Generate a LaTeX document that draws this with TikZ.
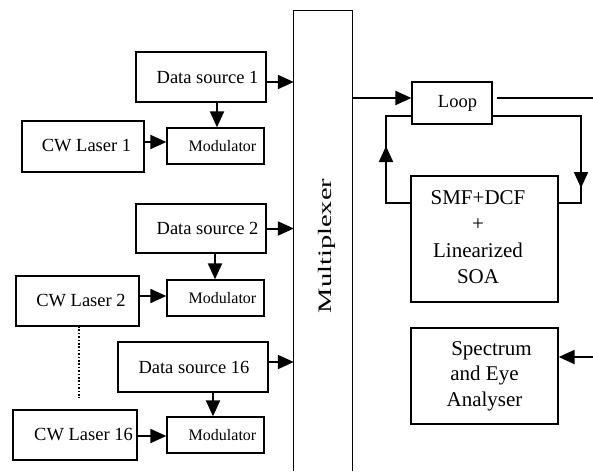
\documentclass[tikz,border=0pt]{standalone}
\usepackage{fontspec}
\setmainfont{Liberation Serif}
\usetikzlibrary{arrows.meta,calc}
\tikzset{
  box/.style={draw, line width=1.3pt, inner sep=0pt, align=center},
  fmain/.style={font=\fontsize{18.5}{21}\selectfont},
  fmod/.style={font=\fontsize{16}{18}\selectfont},
  fbig/.style={font=\fontsize{21}{25.5}\selectfont},
  conn/.style={line width=2pt},
  arrow/.style={line width=2pt, -{Triangle[length=16pt,width=14pt]}},
}
\begin{document}
\begin{tikzpicture}[x=1pt,y=-1pt]
\useasboundingbox (0,0) rectangle (593,471);
% source boxes
\node[box,fmain,minimum width=130pt,minimum height=50pt] (ds1) at (201,77) {\hspace*{13pt}Data source 1};
\node[box,fmod,minimum width=97pt,minimum height=36pt] (mod1) at (215.5,146) {\hspace*{14pt}\raisebox{-3pt}{Modulator}};
\node[box,fmain,minimum width=122pt,minimum height=51pt] (cw1) at (83,146.5) {\hspace*{7pt}\raisebox{2pt}{CW Laser 1}};
\node[box,fmain,minimum width=130pt,minimum height=49pt] (ds2) at (201,228.5) {\hspace*{13pt}Data source 2};
\node[box,fmod,minimum width=97pt,minimum height=36pt] (mod2) at (215.5,298) {\hspace*{14pt}\raisebox{-3pt}{Modulator}};
\node[box,fmain,minimum width=123pt,minimum height=50pt] (cw2) at (77.5,301) {\hspace*{7pt}\raisebox{2pt}{CW Laser 2}};
\node[box,fmain,minimum width=150pt,minimum height=50pt] (ds16) at (193,367) {\hspace*{2pt}Data source 16};
\node[box,fmod,minimum width=97pt,minimum height=36pt] (mod16) at (215.5,435) {\hspace*{14pt}\raisebox{-3pt}{Modulator}};
\node[box,fmain,minimum width=124pt,minimum height=50pt] (cw16) at (75,435) {\hspace*{17pt}\raisebox{2pt}{CW Laser 16}};
% multiplexer (open at the bottom)
\node[minimum width=58pt,minimum height=460pt,inner sep=0pt] (mux) at (323,241) {};
\draw[line width=1.3pt] (mux.south west) -- (mux.north west) -- (mux.north east) -- (mux.south east);
\node[font=\fontsize{19}{21}\selectfont,rotate=90] (muxlabel) at (327,246) {\scalebox{1.5}[1]{Multiplexer}};
% right-hand boxes
\node[box,fmain,minimum width=80pt,minimum height=42pt] (loop) at (452,103) {\hspace*{11pt}\raisebox{-2pt}{Loop}};
\node[box,fbig,minimum width=147pt,minimum height=126pt] (smf) at (484.5,239) {\hspace*{-13pt}\begin{tabular}{@{}c@{}}SMF+DCF\\[1pt]+\\[1pt]Linearized\\[1pt]SOA\end{tabular}};
\node[box,fbig,minimum width=147pt,minimum height=96pt] (spec) at (484.5,376) {\hspace*{14pt}Spectrum\\and Eye\\Analyser};
% connectors to multiplexer
\draw[arrow] ([yshift=-5pt]ds1.east) -- ([yshift=-5pt]ds1.east -| mux.west);
\draw[arrow] (ds2.east) -- (ds2.east -| mux.west);
\draw[arrow] ([yshift=5pt]ds16.east) -- ([yshift=5pt]ds16.east -| mux.west);
% data source -> modulator
\draw[arrow] ([xshift=16pt]ds1.south) -- ([xshift=16pt]ds1.south |- mod1.north);
\draw[arrow] ([xshift=14pt]ds2.south) -- ([xshift=14pt]ds2.south |- mod2.north);
\draw[arrow] ([xshift=20pt]ds16.south) -- ([xshift=20pt]ds16.south |- mod16.north);
% laser -> modulator
\draw[arrow] ([yshift=4.5pt]cw1.east) -- ([yshift=4.5pt]cw1.east -| mod1.west);
\draw[arrow] ([yshift=5pt]cw2.east) -- ([yshift=5pt]cw2.east -| mod2.west);
\draw[arrow] ([yshift=-1pt]cw16.east) -- ([yshift=-1pt]cw16.east -| mod16.west);
% dotted continuation
\coordinate (dtop) at (79,326);
\coordinate (dbot) at (79,398);
\draw[line width=1.6pt, dash pattern=on 1.6pt off 1.8pt] (dtop) -- (dbot);
% multiplexer -> loop
\coordinate (ly) at (0,98);
\draw[arrow] (mux.east |- ly) -- (loop.west |- ly);
% loop output
\coordinate (lo1) at (497,98);
\coordinate (lo2) at (593,98);
\draw[conn] (lo1) -- (lo2);
% feedback loop
\coordinate (lx) at (386,0);
\coordinate (rx) at (581,0);
\coordinate (fy) at (0,203);
\draw[conn] ([yshift=-13pt]loop.west) -| (lx |- fy) -- (smf.west |- fy);
\draw[conn] ([yshift=-13pt]loop.east) -| (rx |- fy) -- (smf.east |- fy);
\coordinate (la1) at (386,168);
\coordinate (la2) at (386,146);
\draw[arrow] (la1) -- (la2);
\coordinate (ra1) at (581,165);
\coordinate (ra2) at (581,188);
\draw[arrow] (ra1) -- (ra2);
% input to analyser
\coordinate (si) at (593,357);
\draw[arrow] (si) -- (si -| spec.east);
\end{tikzpicture}
\end{document}
